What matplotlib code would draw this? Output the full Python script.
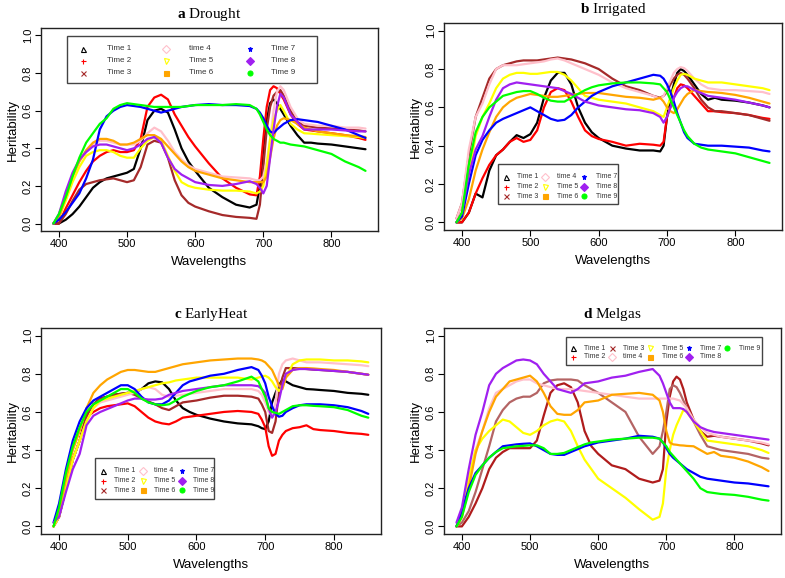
import matplotlib
matplotlib.use("Agg")
import matplotlib.pyplot as plt
from matplotlib.lines import Line2D
from matplotlib.patches import Rectangle

plt.rcParams['font.family'] = ['Liberation Sans', 'DejaVu Sans']
plt.rcParams['mathtext.fontset'] = 'custom'
plt.rcParams['mathtext.rm'] = 'Liberation Serif'
plt.rcParams['mathtext.bf'] = 'Liberation Serif:bold'

# ---------------- data ----------------
wavelengths = [392, 400, 410, 420, 430, 440, 450, 460, 470, 480, 490, 500, 510, 520, 530, 540,
               550, 560, 570, 580, 590, 600, 620, 640, 660, 680, 690, 695, 700, 705, 710, 715,
               720, 725, 730, 740, 750, 760, 770, 780, 800, 820, 840, 850]

series_labels = ["Time 1", "Time 2", "Time 3", "time 4", "Time 5", "Time 6", "Time 7", "Time 8", "Time 9"]
series_colors = ["#000000", "#FF0000", "#A52A2A", "#FFC0CB", "#FFFF00", "#FFA500", "#0000FF", "#A020F0", "#00FF00"]

panel_titles = ["a", "b", "c", "d"]
panel_names = ["Drought", "Irrigated", "EarlyHeat", "Melgas"]

# Panel a: Drought
drought_t1 = [0.0, 0.0, 0.02, 0.05, 0.09, 0.14, 0.19, 0.22, 0.24, 0.25, 0.26, 0.27, 0.29, 0.40, 0.55, 0.60, 0.61, 0.59, 0.50, 0.40, 0.33, 0.28, 0.19, 0.14, 0.10, 0.085, 0.10, 0.20, 0.40, 0.55, 0.64, 0.66, 0.64, 0.61, 0.58, 0.52, 0.47, 0.43, 0.43, 0.425, 0.42, 0.41, 0.40, 0.395]
drought_t2 = [0.0, 0.0, 0.08, 0.15, 0.22, 0.28, 0.33, 0.36, 0.38, 0.39, 0.38, 0.38, 0.39, 0.45, 0.62, 0.67, 0.685, 0.66, 0.58, 0.52, 0.46, 0.41, 0.32, 0.24, 0.19, 0.155, 0.15, 0.25, 0.45, 0.62, 0.71, 0.73, 0.72, 0.69, 0.66, 0.58, 0.53, 0.50, 0.495, 0.49, 0.48, 0.47, 0.455, 0.445]
drought_t3 = [0.0, 0.0, 0.05, 0.12, 0.18, 0.21, 0.22, 0.23, 0.235, 0.24, 0.23, 0.22, 0.23, 0.30, 0.42, 0.44, 0.43, 0.35, 0.23, 0.15, 0.11, 0.09, 0.065, 0.045, 0.035, 0.03, 0.025, 0.10, 0.30, 0.50, 0.62, 0.68, 0.70, 0.71, 0.68, 0.60, 0.54, 0.52, 0.515, 0.51, 0.505, 0.50, 0.495, 0.49]
drought_t4 = [0.0, 0.05, 0.15, 0.25, 0.33, 0.38, 0.42, 0.44, 0.44, 0.43, 0.42, 0.42, 0.42, 0.44, 0.48, 0.51, 0.49, 0.44, 0.38, 0.34, 0.31, 0.29, 0.27, 0.25, 0.245, 0.24, 0.23, 0.23, 0.25, 0.33, 0.45, 0.60, 0.70, 0.73, 0.71, 0.62, 0.56, 0.53, 0.525, 0.52, 0.52, 0.51, 0.51, 0.505]
drought_t5 = [0.0, 0.03, 0.12, 0.22, 0.30, 0.36, 0.38, 0.39, 0.39, 0.38, 0.36, 0.35, 0.35, 0.40, 0.44, 0.46, 0.44, 0.36, 0.28, 0.22, 0.20, 0.19, 0.18, 0.175, 0.175, 0.17, 0.16, 0.17, 0.20, 0.30, 0.45, 0.55, 0.60, 0.63, 0.60, 0.53, 0.50, 0.48, 0.478, 0.475, 0.47, 0.465, 0.46, 0.455]
drought_t6 = [0.0, 0.03, 0.14, 0.25, 0.33, 0.39, 0.43, 0.45, 0.45, 0.44, 0.42, 0.42, 0.43, 0.45, 0.47, 0.47, 0.45, 0.41, 0.37, 0.33, 0.30, 0.28, 0.26, 0.24, 0.23, 0.22, 0.22, 0.22, 0.22, 0.25, 0.35, 0.45, 0.52, 0.55, 0.56, 0.55, 0.53, 0.51, 0.50, 0.49, 0.48, 0.47, 0.465, 0.46]
drought_t7 = [0.0, 0.02, 0.06, 0.11, 0.16, 0.24, 0.34, 0.50, 0.57, 0.60, 0.62, 0.63, 0.625, 0.62, 0.61, 0.60, 0.59, 0.60, 0.61, 0.62, 0.625, 0.63, 0.635, 0.63, 0.63, 0.625, 0.61, 0.59, 0.56, 0.52, 0.49, 0.48, 0.50, 0.515, 0.53, 0.55, 0.555, 0.55, 0.545, 0.54, 0.52, 0.50, 0.47, 0.455]
drought_t8 = [0.0, 0.05, 0.17, 0.27, 0.34, 0.38, 0.41, 0.42, 0.42, 0.41, 0.40, 0.39, 0.40, 0.42, 0.45, 0.46, 0.43, 0.35, 0.29, 0.26, 0.24, 0.22, 0.205, 0.20, 0.21, 0.225, 0.21, 0.19, 0.16, 0.20, 0.35, 0.50, 0.62, 0.69, 0.67, 0.58, 0.54, 0.50, 0.50, 0.50, 0.50, 0.495, 0.49, 0.49]
drought_t9 = [0.0, 0.05, 0.14, 0.25, 0.35, 0.43, 0.48, 0.53, 0.56, 0.61, 0.63, 0.64, 0.635, 0.63, 0.625, 0.62, 0.62, 0.62, 0.62, 0.62, 0.625, 0.63, 0.63, 0.63, 0.635, 0.63, 0.61, 0.58, 0.54, 0.50, 0.47, 0.45, 0.44, 0.43, 0.43, 0.42, 0.415, 0.41, 0.40, 0.39, 0.37, 0.33, 0.30, 0.28]

# Panel b: Irrigated
irrigated_t1 = [0.0, 0.0, 0.05, 0.15, 0.13, 0.27, 0.35, 0.38, 0.42, 0.455, 0.44, 0.46, 0.52, 0.65, 0.74, 0.78, 0.78, 0.72, 0.60, 0.52, 0.47, 0.44, 0.40, 0.385, 0.375, 0.375, 0.37, 0.40, 0.55, 0.65, 0.72, 0.78, 0.80, 0.79, 0.77, 0.72, 0.67, 0.64, 0.65, 0.64, 0.635, 0.625, 0.61, 0.60]
irrigated_t2 = [0.0, 0.0, 0.05, 0.15, 0.23, 0.30, 0.35, 0.38, 0.42, 0.44, 0.42, 0.43, 0.48, 0.60, 0.68, 0.70, 0.69, 0.63, 0.55, 0.48, 0.45, 0.435, 0.42, 0.40, 0.41, 0.405, 0.40, 0.42, 0.55, 0.60, 0.65, 0.70, 0.72, 0.715, 0.70, 0.66, 0.62, 0.58, 0.58, 0.575, 0.57, 0.56, 0.545, 0.54]
irrigated_t3 = [0.02, 0.10, 0.35, 0.55, 0.65, 0.75, 0.80, 0.82, 0.83, 0.84, 0.845, 0.845, 0.845, 0.85, 0.855, 0.86, 0.855, 0.85, 0.84, 0.83, 0.815, 0.80, 0.75, 0.71, 0.69, 0.66, 0.65, 0.66, 0.68, 0.72, 0.75, 0.77, 0.78, 0.77, 0.75, 0.70, 0.64, 0.60, 0.58, 0.58, 0.57, 0.56, 0.54, 0.53]
irrigated_t4 = [0.02, 0.10, 0.38, 0.55, 0.62, 0.72, 0.80, 0.82, 0.82, 0.82, 0.825, 0.83, 0.835, 0.84, 0.85, 0.855, 0.845, 0.83, 0.815, 0.80, 0.785, 0.77, 0.73, 0.70, 0.68, 0.66, 0.645, 0.66, 0.70, 0.74, 0.78, 0.80, 0.81, 0.805, 0.79, 0.75, 0.72, 0.70, 0.695, 0.69, 0.69, 0.685, 0.68, 0.67]
irrigated_t5 = [0.0, 0.05, 0.25, 0.45, 0.55, 0.62, 0.70, 0.75, 0.77, 0.78, 0.78, 0.775, 0.775, 0.78, 0.785, 0.785, 0.77, 0.74, 0.70, 0.66, 0.65, 0.64, 0.63, 0.62, 0.60, 0.58, 0.56, 0.55, 0.60, 0.65, 0.70, 0.74, 0.77, 0.775, 0.77, 0.75, 0.74, 0.73, 0.73, 0.73, 0.72, 0.71, 0.70, 0.69]
irrigated_t6 = [0.0, 0.02, 0.12, 0.27, 0.38, 0.47, 0.55, 0.60, 0.63, 0.65, 0.66, 0.67, 0.665, 0.66, 0.655, 0.655, 0.66, 0.665, 0.67, 0.675, 0.675, 0.675, 0.665, 0.655, 0.65, 0.64, 0.65, 0.63, 0.60, 0.58, 0.57, 0.59, 0.62, 0.65, 0.67, 0.69, 0.685, 0.68, 0.678, 0.675, 0.665, 0.65, 0.63, 0.62]
irrigated_t7 = [0.0, 0.03, 0.20, 0.35, 0.43, 0.48, 0.52, 0.54, 0.555, 0.57, 0.585, 0.60, 0.58, 0.56, 0.54, 0.53, 0.535, 0.56, 0.60, 0.63, 0.66, 0.68, 0.71, 0.73, 0.75, 0.77, 0.765, 0.75, 0.72, 0.68, 0.63, 0.57, 0.52, 0.47, 0.44, 0.41, 0.405, 0.40, 0.40, 0.40, 0.395, 0.39, 0.375, 0.37]
irrigated_t8 = [0.0, 0.05, 0.25, 0.38, 0.45, 0.55, 0.64, 0.70, 0.72, 0.73, 0.725, 0.72, 0.715, 0.71, 0.705, 0.70, 0.685, 0.67, 0.65, 0.63, 0.62, 0.61, 0.60, 0.59, 0.585, 0.57, 0.55, 0.52, 0.55, 0.60, 0.65, 0.68, 0.70, 0.71, 0.71, 0.69, 0.675, 0.66, 0.655, 0.65, 0.64, 0.625, 0.61, 0.60]
irrigated_t9 = [0.0, 0.05, 0.30, 0.47, 0.55, 0.60, 0.63, 0.66, 0.67, 0.68, 0.685, 0.685, 0.67, 0.65, 0.635, 0.63, 0.63, 0.65, 0.67, 0.69, 0.705, 0.715, 0.725, 0.73, 0.73, 0.725, 0.72, 0.70, 0.68, 0.64, 0.60, 0.56, 0.52, 0.48, 0.45, 0.41, 0.39, 0.38, 0.375, 0.37, 0.36, 0.34, 0.32, 0.31]

# Panel c: EarlyHeat
earlyheat_t1 = [0.0, 0.05, 0.20, 0.35, 0.45, 0.58, 0.64, 0.67, 0.68, 0.69, 0.695, 0.70, 0.70, 0.72, 0.75, 0.76, 0.755, 0.72, 0.66, 0.62, 0.60, 0.585, 0.565, 0.55, 0.54, 0.535, 0.525, 0.515, 0.51, 0.55, 0.65, 0.70, 0.74, 0.77, 0.76, 0.74, 0.73, 0.72, 0.718, 0.715, 0.71, 0.70, 0.695, 0.69]
earlyheat_t2 = [0.0, 0.05, 0.20, 0.35, 0.45, 0.57, 0.60, 0.62, 0.63, 0.635, 0.64, 0.645, 0.63, 0.60, 0.57, 0.55, 0.54, 0.535, 0.55, 0.57, 0.575, 0.58, 0.59, 0.60, 0.605, 0.60, 0.59, 0.56, 0.52, 0.42, 0.37, 0.38, 0.45, 0.48, 0.50, 0.515, 0.52, 0.53, 0.51, 0.505, 0.50, 0.49, 0.485, 0.48]
earlyheat_t3 = [0.0, 0.05, 0.20, 0.35, 0.45, 0.58, 0.64, 0.67, 0.68, 0.69, 0.695, 0.70, 0.69, 0.67, 0.655, 0.64, 0.62, 0.61, 0.63, 0.65, 0.655, 0.66, 0.675, 0.685, 0.685, 0.68, 0.67, 0.64, 0.60, 0.50, 0.49, 0.55, 0.70, 0.78, 0.83, 0.83, 0.828, 0.825, 0.822, 0.82, 0.815, 0.81, 0.80, 0.795]
earlyheat_t4 = [0.0, 0.05, 0.20, 0.35, 0.45, 0.55, 0.62, 0.65, 0.66, 0.67, 0.68, 0.69, 0.70, 0.72, 0.73, 0.72, 0.69, 0.68, 0.685, 0.69, 0.695, 0.70, 0.71, 0.72, 0.72, 0.72, 0.71, 0.69, 0.65, 0.60, 0.58, 0.65, 0.80, 0.85, 0.87, 0.88, 0.87, 0.86, 0.86, 0.86, 0.855, 0.85, 0.845, 0.84]
earlyheat_t5 = [0.0, 0.05, 0.20, 0.35, 0.45, 0.55, 0.62, 0.66, 0.67, 0.68, 0.69, 0.70, 0.71, 0.72, 0.73, 0.74, 0.75, 0.755, 0.765, 0.77, 0.775, 0.78, 0.78, 0.78, 0.78, 0.77, 0.78, 0.785, 0.79, 0.78, 0.76, 0.73, 0.71, 0.73, 0.78, 0.85, 0.87, 0.875, 0.875, 0.875, 0.87, 0.87, 0.865, 0.86]
earlyheat_t6 = [0.0, 0.08, 0.25, 0.40, 0.50, 0.62, 0.70, 0.74, 0.77, 0.79, 0.81, 0.82, 0.82, 0.815, 0.81, 0.81, 0.82, 0.83, 0.84, 0.85, 0.855, 0.86, 0.87, 0.875, 0.88, 0.88, 0.875, 0.87, 0.86, 0.84, 0.82, 0.78, 0.74, 0.72, 0.78, 0.82, 0.83, 0.83, 0.828, 0.825, 0.82, 0.81, 0.80, 0.795]
earlyheat_t7 = [0.02, 0.12, 0.30, 0.45, 0.55, 0.62, 0.66, 0.68, 0.70, 0.72, 0.74, 0.74, 0.72, 0.68, 0.65, 0.64, 0.64, 0.66, 0.70, 0.74, 0.76, 0.77, 0.79, 0.80, 0.82, 0.835, 0.82, 0.79, 0.75, 0.68, 0.63, 0.59, 0.575, 0.58, 0.60, 0.62, 0.635, 0.64, 0.64, 0.64, 0.635, 0.625, 0.605, 0.59]
earlyheat_t8 = [0.02, 0.05, 0.18, 0.30, 0.38, 0.53, 0.58, 0.60, 0.615, 0.63, 0.645, 0.66, 0.67, 0.67, 0.665, 0.665, 0.67, 0.69, 0.70, 0.71, 0.715, 0.72, 0.73, 0.74, 0.74, 0.74, 0.735, 0.72, 0.70, 0.62, 0.57, 0.60, 0.66, 0.74, 0.80, 0.82, 0.825, 0.825, 0.822, 0.82, 0.815, 0.81, 0.80, 0.795]
earlyheat_t9 = [0.0, 0.10, 0.28, 0.42, 0.52, 0.60, 0.64, 0.66, 0.68, 0.70, 0.72, 0.72, 0.70, 0.67, 0.65, 0.64, 0.635, 0.64, 0.66, 0.68, 0.695, 0.71, 0.73, 0.74, 0.76, 0.785, 0.76, 0.72, 0.68, 0.62, 0.60, 0.595, 0.59, 0.60, 0.61, 0.63, 0.635, 0.635, 0.632, 0.63, 0.625, 0.61, 0.58, 0.57]

# Panel d: Melgas (no Time 1 curve visible)
melgas_t1 = None
melgas_t2 = [0.0, 0.0, 0.05, 0.12, 0.20, 0.30, 0.36, 0.39, 0.41, 0.41, 0.41, 0.41, 0.45, 0.58, 0.70, 0.74, 0.75, 0.73, 0.65, 0.50, 0.42, 0.38, 0.32, 0.30, 0.25, 0.23, 0.24, 0.30, 0.55, 0.68, 0.76, 0.785, 0.77, 0.72, 0.65, 0.56, 0.50, 0.47, 0.475, 0.47, 0.46, 0.45, 0.435, 0.425]
melgas_t3 = [0.0, 0.02, 0.08, 0.18, 0.30, 0.42, 0.55, 0.61, 0.65, 0.67, 0.68, 0.68, 0.70, 0.75, 0.765, 0.77, 0.77, 0.77, 0.765, 0.74, 0.72, 0.70, 0.65, 0.60, 0.47, 0.38, 0.42, 0.50, 0.60, 0.72, 0.74, 0.73, 0.70, 0.66, 0.62, 0.55, 0.48, 0.42, 0.41, 0.40, 0.39, 0.38, 0.36, 0.355]
melgas_t4 = [0.0, 0.08, 0.25, 0.40, 0.50, 0.62, 0.70, 0.72, 0.74, 0.76, 0.77, 0.77, 0.75, 0.74, 0.73, 0.72, 0.72, 0.72, 0.715, 0.71, 0.705, 0.70, 0.69, 0.68, 0.67, 0.67, 0.67, 0.67, 0.67, 0.67, 0.67, 0.665, 0.66, 0.64, 0.62, 0.56, 0.52, 0.49, 0.48, 0.47, 0.46, 0.45, 0.44, 0.43]
melgas_t5 = [0.0, 0.05, 0.25, 0.40, 0.46, 0.50, 0.53, 0.56, 0.55, 0.52, 0.49, 0.48, 0.50, 0.53, 0.55, 0.56, 0.55, 0.50, 0.42, 0.35, 0.30, 0.25, 0.20, 0.15, 0.09, 0.035, 0.05, 0.12, 0.30, 0.40, 0.48, 0.53, 0.57, 0.61, 0.60, 0.55, 0.50, 0.45, 0.445, 0.44, 0.43, 0.42, 0.40, 0.385]
melgas_t6 = [0.0, 0.05, 0.20, 0.38, 0.50, 0.60, 0.68, 0.72, 0.76, 0.77, 0.78, 0.79, 0.76, 0.70, 0.63, 0.59, 0.585, 0.585, 0.61, 0.65, 0.655, 0.66, 0.69, 0.695, 0.70, 0.69, 0.66, 0.60, 0.50, 0.44, 0.43, 0.428, 0.425, 0.424, 0.422, 0.42, 0.40, 0.38, 0.39, 0.37, 0.36, 0.34, 0.31, 0.29]
melgas_t7 = [0.0, 0.08, 0.20, 0.28, 0.32, 0.36, 0.39, 0.42, 0.425, 0.43, 0.433, 0.435, 0.42, 0.40, 0.38, 0.375, 0.375, 0.39, 0.405, 0.42, 0.43, 0.44, 0.45, 0.46, 0.475, 0.47, 0.46, 0.44, 0.41, 0.38, 0.36, 0.345, 0.33, 0.315, 0.30, 0.28, 0.26, 0.25, 0.245, 0.24, 0.23, 0.225, 0.215, 0.21]
melgas_t8 = [0.02, 0.10, 0.30, 0.48, 0.60, 0.74, 0.80, 0.83, 0.85, 0.87, 0.875, 0.87, 0.85, 0.80, 0.76, 0.72, 0.71, 0.70, 0.72, 0.75, 0.755, 0.76, 0.78, 0.79, 0.81, 0.825, 0.79, 0.75, 0.70, 0.65, 0.62, 0.62, 0.62, 0.615, 0.60, 0.55, 0.52, 0.505, 0.495, 0.49, 0.48, 0.47, 0.46, 0.455]
melgas_t9 = [0.0, 0.05, 0.18, 0.27, 0.32, 0.36, 0.39, 0.41, 0.415, 0.42, 0.422, 0.425, 0.425, 0.41, 0.38, 0.38, 0.385, 0.40, 0.415, 0.43, 0.44, 0.445, 0.455, 0.46, 0.465, 0.465, 0.46, 0.44, 0.42, 0.39, 0.37, 0.35, 0.33, 0.31, 0.29, 0.25, 0.20, 0.18, 0.175, 0.17, 0.165, 0.155, 0.14, 0.135]

panels_data = [
    [drought_t1, drought_t2, drought_t3, drought_t4, drought_t5, drought_t6, drought_t7, drought_t8, drought_t9],
    [irrigated_t1, irrigated_t2, irrigated_t3, irrigated_t4, irrigated_t5, irrigated_t6, irrigated_t7, irrigated_t8, irrigated_t9],
    [earlyheat_t1, earlyheat_t2, earlyheat_t3, earlyheat_t4, earlyheat_t5, earlyheat_t6, earlyheat_t7, earlyheat_t8, earlyheat_t9],
    [melgas_t1, melgas_t2, melgas_t3, melgas_t4, melgas_t5, melgas_t6, melgas_t7, melgas_t8, melgas_t9],
]

x_ticks = [400, 500, 600, 700, 800]
y_ticks = [0.0, 0.2, 0.4, 0.6, 0.8, 1.0]

# ---------------- styling ----------------
W, H = 785, 578
legend_markers = [
    dict(marker='^', mfc='none', mec='#000000'),
    dict(marker='+', mfc='#FF0000', mec='#FF0000'),
    dict(marker='x', mfc='#A52A2A', mec='#A52A2A'),
    dict(marker='D', mfc='none', mec='#FFC0CB'),
    dict(marker='v', mfc='none', mec='#FFFF00'),
    dict(marker='s', mfc='#FFA500', mec='#FFA500'),
    dict(marker='*', mfc='#0000FF', mec='#0000FF'),
    dict(marker='D', mfc='#A020F0', mec='#A020F0'),
    dict(marker='o', mfc='#00FF00', mec='#00FF00'),
]

# axes rectangles (fig fraction)
axes_rects = [
    [0.0522, 0.6003, 0.4293, 0.3513],
    [0.5656, 0.6021, 0.4306, 0.3580],
    [0.0522, 0.0761, 0.4330, 0.3564],
    [0.5656, 0.0761, 0.4293, 0.3564],
]
# legend layout in figure pixels: box (x0, y0, x1, y1), marker column x, text column x, row y
legend_layout = [
    dict(box=(67, 36, 317, 83), mx=[83, 166, 250], tx=[107, 189, 271], ry=[49, 61, 73], ncol=3, fs=5.8),
    dict(box=(498, 164, 618, 204), mx=[506, 545, 584], tx=[517, 557, 596], ry=[177, 187, 196], ncol=3, fs=5.0),
    dict(box=(95, 458, 214, 499), mx=[103, 143, 182], tx=[114, 154, 193], ry=[471, 481, 490], ncol=3, fs=5.0),
    dict(box=(566, 337, 762, 365), mx=[573, 612, 650, 689, 727], tx=[584, 623, 662, 700, 739], ry=[348, 357], ncol=5, fs=5.0),
]

color_override = {3: {1: "#B01C1C", 2: "#B46464"}}


def fx(x):
    return x / W


def fy(y):
    return 1 - y / H


fig = plt.figure(figsize=(7.85, 5.78), dpi=100)

for p in range(4):
    ax = fig.add_axes(axes_rects[p])
    for i, vals in enumerate(panels_data[p]):
        if vals is None:
            continue
        col = color_override.get(p, {}).get(i, series_colors[i])
        ax.plot(wavelengths, vals, color=col, lw=1.6, solid_joinstyle='round',
                solid_capstyle='round', zorder=2 + i)
    ax.set_xlim(373.7, 868.3)
    ax.set_ylim(-0.04, 1.04)
    ax.set_xticks(x_ticks)
    ax.set_yticks(y_ticks)
    ax.set_yticklabels([f"{v:.1f}" for v in y_ticks], rotation=90, va='center')
    ax.tick_params(direction='out', length=4, width=0.8, labelsize=8, pad=2, colors='#000000')
    for s in ax.spines.values():
        s.set_linewidth(1.0)
        s.set_color('#222222')
    ax.set_xlabel("Wavelengths", fontsize=9.5, labelpad=5)
    ax.set_ylabel("Heritability", fontsize=9.5, labelpad=3)
    ax.set_title(r"$\mathbf{" + panel_titles[p] + "}$ " + panel_names[p],
                 fontsize=11, family='Liberation Serif', pad=7)

    # legend (drawn manually to reproduce R's legend layout)
    L = legend_layout[p]
    x0, y0, x1, y1 = L['box']
    fig.add_artist(Rectangle((fx(x0), fy(y1)), fx(x1) - fx(x0), fy(y0) - fy(y1),
                             transform=fig.transFigure, facecolor='white',
                             edgecolor='#444444', lw=1.0, zorder=20))
    nrow = len(L['ry'])
    for i in range(9):
        c, r = divmod(i, nrow)
        fig.add_artist(Line2D([fx(L['mx'][c])], [fy(L['ry'][r])], transform=fig.transFigure,
                              linestyle='none', markersize=3.6, markeredgewidth=0.8,
                              zorder=21, **legend_markers[i]))
        fig.text(fx(L['tx'][c]), fy(L['ry'][r]), series_labels[i], fontsize=L['fs'],
                 color='#333333', ha='left', va='center', zorder=21)

fig.savefig("out.png", dpi=100)
